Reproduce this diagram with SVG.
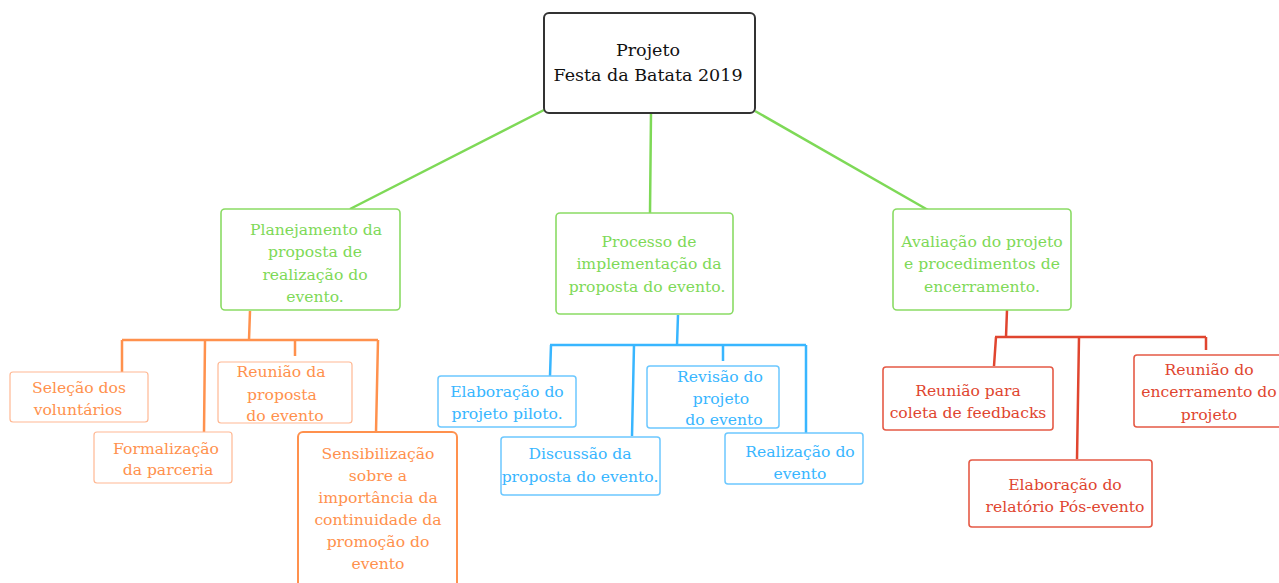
<svg xmlns="http://www.w3.org/2000/svg" width="1279" height="583" viewBox="0 0 1279 583">
<style>
text{font-family:"DejaVu Serif","Liberation Serif",serif;font-size:15.6px;text-anchor:middle}
.root rect{fill:#fff;stroke:#333;stroke-width:2}
.root text{fill:#111;font-size:17.5px}
.g rect{fill:#fff;stroke:#8adb64;stroke-width:1.6}
.g text{fill:#7ed957}
.o rect{fill:#fff;stroke:#ffb893;stroke-width:1.2}
.o text{fill:#ff914d}
.ob rect{stroke:#ff914d;stroke-width:2}
.b rect{fill:#fff;stroke:#6cc8ff;stroke-width:1.5}
.b text{fill:#38b6ff}
.r rect{fill:#fff;stroke:#e55a46;stroke-width:1.6}
.r text{fill:#e0452f}
.cg{stroke:#7ed957;stroke-width:2.5;fill:none}
.co{stroke:#ff914d;stroke-width:2.5;fill:none}
.cb{stroke:#38b6ff;stroke-width:2.5;fill:none}
.cr{stroke:#e0452f;stroke-width:2.5;fill:none}
</style>
<rect width="1279" height="583" fill="#fff"/>
<g id="connectors">
<path class="cg" d="M544 110 L350 209 M651 113 L650 213 M755 111 L928 210"/>
<path class="co" d="M250 311 L249 340 M122 340 L378 340 M122 340 L122 372 M205 340 L204 432 M295 340 L295 356 M378 340 L376 432"/>
<path class="cb" d="M678 315 L677 345 M550 345 L806 345 M551 345 L550 376 M634 345 L632 436 M723 345 L723 361 M806 345 L806 433"/>
<path class="cr" d="M1007 310 L1006 337 M995 337 L1206 337 M996 337 L994 366 M1079 337 L1077 459 M1206 337 L1206 350"/>
</g>
<g id="root" class="root"><rect x="544" y="13" width="211" height="100" rx="5"/><text x="648" y="56">Projeto</text><text x="648" y="81">Festa da Batata 2019</text></g>
<g id="planejamento" class="g"><rect x="221" y="209" width="179" height="101" rx="4"/><text x="316" y="235">Planejamento da</text><text x="315" y="257">proposta de</text><text x="315" y="280">realização do</text><text x="315" y="302">evento.</text></g>
<g id="processo" class="g"><rect x="556" y="213" width="177" height="101" rx="4"/><text x="649" y="247">Processo de</text><text x="649" y="269">implementação da</text><text x="647" y="292">proposta do evento.</text></g>
<g id="avaliacao" class="g"><rect x="893" y="209" width="178" height="101" rx="4"/><text x="982" y="247">Avaliação do projeto</text><text x="982" y="269">e procedimentos de</text><text x="982" y="292">encerramento.</text></g>
<g id="selecao" class="o"><rect x="10" y="372" width="138" height="50" rx="3"/><text x="79" y="393">Seleção dos</text><text x="78" y="415">voluntários</text></g>
<g id="formalizacao" class="o"><rect x="94" y="432" width="138" height="51" rx="3"/><text x="166" y="454">Formalização</text><text x="168" y="475">da parceria</text></g>
<g id="reuniao-proposta" class="o"><rect x="218" y="362" width="134" height="61" rx="3"/><text x="281" y="377">Reunião da</text><text x="282" y="400">proposta</text><text x="285" y="421">do evento</text></g>
<g id="sensibilizacao" class="o ob"><rect x="298" y="432" width="159" height="160" rx="5"/><text x="378" y="459">Sensibilização</text><text x="378" y="481">sobre a</text><text x="378" y="503">importância da</text><text x="378" y="525">continuidade da</text><text x="378" y="547">promoção do</text><text x="378" y="569">evento</text></g>
<g id="elaboracao-piloto" class="b"><rect x="438" y="376" width="138" height="51" rx="3"/><text x="507" y="397">Elaboração do</text><text x="507" y="419">projeto piloto.</text></g>
<g id="discussao" class="b"><rect x="501" y="437" width="159" height="58" rx="3"/><text x="580" y="459">Discussão da</text><text x="580" y="482">proposta do evento.</text></g>
<g id="revisao" class="b"><rect x="647" y="366" width="132" height="62" rx="3"/><text x="720" y="382">Revisão do</text><text x="721" y="404">projeto</text><text x="724" y="425">do evento</text></g>
<g id="realizacao" class="b"><rect x="725" y="433" width="138" height="51" rx="3"/><text x="800" y="457">Realização do</text><text x="800" y="479">evento</text></g>
<g id="reuniao-feedbacks" class="r"><rect x="883" y="367" width="170" height="63" rx="3"/><text x="968" y="396">Reunião para</text><text x="968" y="418">coleta de feedbacks</text></g>
<g id="relatorio" class="r"><rect x="969" y="460" width="183" height="67" rx="3"/><text x="1065" y="490">Elaboração do</text><text x="1065" y="512">relatório Pós-evento</text></g>
<g id="reuniao-encerramento" class="r"><rect x="1134" y="355" width="160" height="72" rx="3"/><text x="1209" y="375">Reunião do</text><text x="1209" y="397">encerramento do</text><text x="1209" y="420">projeto</text></g>
</svg>
